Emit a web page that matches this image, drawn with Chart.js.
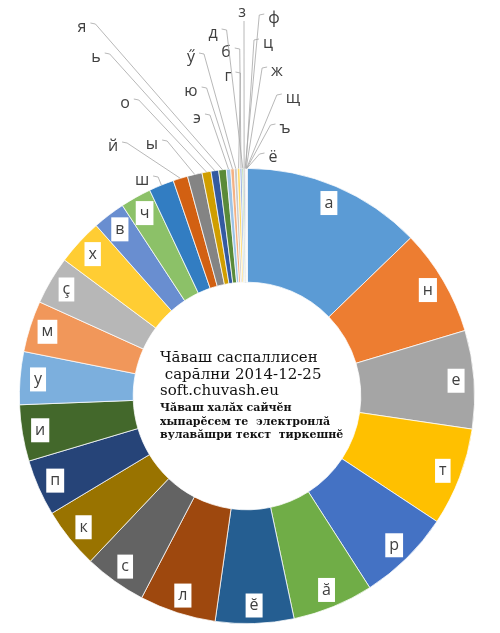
<!DOCTYPE html>
<html>
<head>
<meta charset="utf-8">
<script src="https://cdn.jsdelivr.net/npm/chart.js@4.4.1/dist/chart.umd.min.js"></script>
<style>
  html, body { margin: 0; padding: 0; background: #fff; }
  #wrap { width: 500px; height: 633px; }
</style>
</head>
<body>
<div id="wrap"><canvas id="letters-chart"></canvas></div>
<script>
// letters sorted by share, clockwise from 12 o'clock
const letters = ["а", "н", "е", "т", "р", "ă", "ĕ", "л", "с", "к", "п", "и", "у", "м", "ç", "х", "в", "ч",
  "ш", "й", "ы", "о", "ь", "я", "э", "ю", "ӳ", "г", "б", "д", "з", "ф", "ц", "ж", "щ", "ъ", "ё"];
// share of each letter, %
const shares = [12.78, 7.58, 6.97, 6.97, 6.64, 5.75, 5.56, 5.42, 4.42, 4.31, 4.00, 4.00, 3.75, 3.64, 3.42, 3.28, 2.31, 2.19,
  1.78, 1.04, 1.04, 0.64, 0.54, 0.54, 0.31, 0.25, 0.21, 0.19, 0.14, 0.11, 0.08, 0.06, 0.03, 0.03, 0.02, 0.01, 0.01];
const colors = ["#5B9BD5", "#ED7D31", "#A5A5A5", "#FFC000", "#4472C4", "#70AD47",
  "#255E91", "#9E480E", "#636363", "#997300", "#264478", "#43682B",
  "#7CAFDD", "#F1975A", "#B7B7B7", "#FFCD33", "#698ED0", "#8CC168",
  "#327DC2", "#D26012", "#848484", "#D09E00", "#335AA1", "#5A8A39",
  "#9DC3E6", "#F4B183", "#C9C9C9", "#FFD966", "#8FAADC", "#A9D18E",
  "#1F4E79", "#843C0C", "#525252", "#7F6000", "#203864", "#385723", "#8DB4E2"];

const titleLines = ["Чăваш саспаллисен", " сарăлни 2014-12-25", "soft.chuvash.eu"];
const noteLines = ["Чăваш халăх сайчĕн", "хыпарĕсем те  электронлă", "вулавăшри текст  тиркешнĕ"];

// first slices get their label inside, the rest get a callout
const insideCount = 18;
// callout label spots, relative to the doughnut centre
const calloutAt = {
  "ш": [-105, -216], "й": [-134, -250], "ы": [-95, -252], "о": [-122, -293], "ь": [-151, -339],
  "я": [-165, -369], "э": [-50, -278], "ю": [-56, -305], "ӳ": [-56, -339], "г": [-19, -320],
  "б": [-21, -344], "д": [-34, -363], "з": [-5, -384], "ф": [27, -378], "ц": [21, -353],
  "ж": [30, -325], "щ": [46, -298], "ъ": [38, -268], "ё": [26, -239]
};

const labelFont = '16px "Open Sans"';

const sliceLabels = {
  id: "sliceLabels",
  afterDatasetsDraw(chart) {
    const ctx = chart.ctx;
    const arcs = chart.getDatasetMeta(0).data;
    ctx.save();
    ctx.font = labelFont;
    ctx.textAlign = "center";
    ctx.textBaseline = "middle";
    arcs.forEach((arc, i) => {
      const { x, y, startAngle, endAngle, outerRadius } =
        arc.getProps(["x", "y", "startAngle", "endAngle", "outerRadius"], true);
      const mid = (startAngle + endAngle) / 2;
      const txt = letters[i];
      const w = ctx.measureText(txt).width;
      if (i < insideCount) {
        const r = outerRadius - 18;
        const px = x + Math.cos(mid) * r;
        const py = y + Math.sin(mid) * r;
        ctx.fillStyle = "#fff";
        ctx.fillRect(px - w / 2 - 4, py - 12, w + 8, 24);
        ctx.fillStyle = "#404040";
        ctx.fillText(txt, px, py);
      } else {
        const ax = x + Math.cos(mid) * outerRadius;
        const ay = y + Math.sin(mid) * outerRadius;
        const lx = x + calloutAt[txt][0];
        const ly = y + calloutAt[txt][1];
        ctx.fillStyle = "#404040";
        ctx.fillText(txt, lx, ly);
        ctx.strokeStyle = "#a6a6a6";
        ctx.lineWidth = 0.8;
        ctx.beginPath();
        if (Math.abs(ax - lx) < 8) {
          ctx.moveTo(lx + 2, ly + 9);
        } else {
          const side = ax > lx ? 1 : -1;
          const sx = lx + side * (w / 2 + 4);
          ctx.moveTo(sx, ly - 4);
          ctx.lineTo(sx + side * 5, ly - 3);
        }
        ctx.lineTo(ax, ay);
        ctx.stroke();
      }
    });
    ctx.restore();
  }
};

const centreText = {
  id: "centreText",
  afterDraw(chart) {
    const ctx = chart.ctx;
    const arc = chart.getDatasetMeta(0).data[0];
    const cx = arc.x - 87;
    const cy = arc.y;
    ctx.save();
    ctx.fillStyle = "#111";
    ctx.textAlign = "left";
    ctx.textBaseline = "alphabetic";
    ctx.font = '15px "DejaVu Serif"';
    [-34, -17, -1].forEach((dy, i) => ctx.fillText(titleLines[i], cx, cy + dy));
    ctx.font = 'bold 11px "DejaVu Serif"';
    [15, 29, 42].forEach((dy, i) => ctx.fillText(noteLines[i], cx, cy + dy));
    ctx.restore();
  }
};

new Chart(document.getElementById("letters-chart"), {
  type: "doughnut",
  data: {
    labels: letters,
    datasets: [{
      data: shares,
      backgroundColor: colors,
      borderColor: "#fff",
      borderWidth: 0.75
    }]
  },
  options: {
    responsive: true,
    maintainAspectRatio: false,
    animation: false,
    cutout: "50%",
    layout: { padding: { left: 19, right: 25, top: 168, bottom: 9 } },
    plugins: {
      legend: { display: false },
      tooltip: { enabled: false }
    }
  },
  plugins: [sliceLabels, centreText]
});
</script>
</body>
</html>
